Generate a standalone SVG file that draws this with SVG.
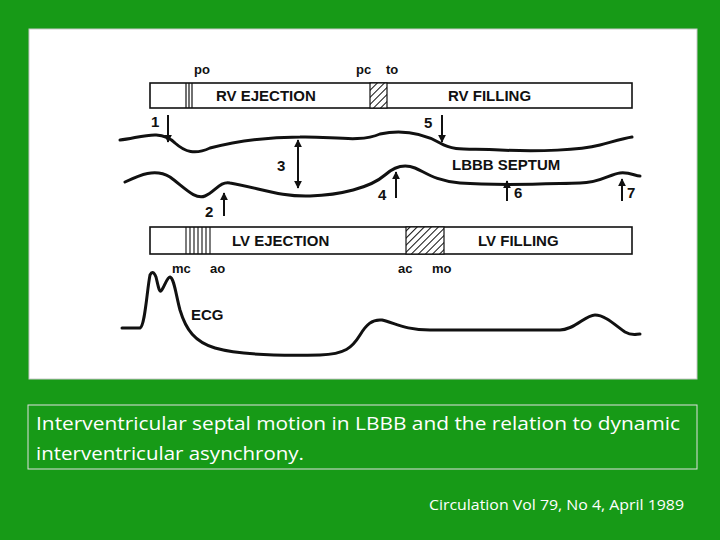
<svg xmlns="http://www.w3.org/2000/svg" width="720" height="540" viewBox="0 0 720 540">
<defs>
<style>
.lb{font-family:"Liberation Sans",Arial,sans-serif;font-weight:bold;font-size:15px;fill:#111}
.sm{font-family:"Liberation Sans",Arial,sans-serif;font-weight:bold;font-size:13px;fill:#111}
.bar{fill:#fff;stroke:#111;stroke-width:1.6}
.w{fill:none;stroke:#111;stroke-width:3;stroke-linecap:round;stroke-linejoin:round}
.ar{stroke:#111;stroke-width:2;marker-end:url(#ah)}
.cap{font-family:"Open Sans","Liberation Sans",sans-serif;fill:#fff}
</style>
<marker id="ah" viewBox="0 0 10 10" refX="9" refY="5" markerWidth="4" markerHeight="4" orient="auto-start-reverse"><path d="M0,0L10,5L0,10z" fill="#111"/></marker>
<pattern id="hatch" width="5" height="5" patternUnits="userSpaceOnUse" patternTransform="rotate(45)"><rect width="5" height="5" fill="#fff"/><line x1="0" y1="0" x2="0" y2="5" stroke="#111" stroke-width="2"/></pattern>
</defs>
<rect width="720" height="540" fill="#179a17"/>
<rect x="29" y="29" width="668" height="350" fill="#fff" stroke="#c8c8c8" stroke-width="1"/>
<g id="rv-bar">
<rect class="bar" x="150" y="83" width="482" height="25"/>
<path d="M186,83V108M189,83V108M192,83V108" stroke="#111" stroke-width="1.2"/>
<rect x="370" y="83" width="17" height="25" fill="url(#hatch)" stroke="#111" stroke-width="1.2"/>
<text class="lb" x="216" y="101">RV EJECTION</text>
<text class="lb" x="448" y="101">RV FILLING</text>
<text class="sm" x="194" y="74">po</text>
<text class="sm" x="356" y="74">pc</text>
<text class="sm" x="386" y="74">to</text>
</g>
<g id="waves">
<path class="w" d="M120,140C140,138 160,128 175,143C185,152 195,155 210,148C240,140 270,137 300,137C330,136 360,143 380,134C400,130 420,132 440,143C455,152 470,148 500,150C540,152 580,150 600,145C615,141 625,138 632,137"/>
<path class="w" d="M125,182C140,175 155,168 170,177C185,188 195,200 205,196C215,192 220,181 230,183C260,188 280,197 310,196C340,195 370,188 385,175C395,166 405,164 415,168C425,172 435,181 460,183C500,186 540,184 580,183C600,183 610,174 620,173C630,172 635,176 640,176"/>
</g>
<g id="connectors">
<line class="ar" x1="168" y1="115" x2="168" y2="142"/>
<line class="ar" x1="442" y1="115" x2="442" y2="142"/>
<line class="ar" x1="298" y1="188" x2="298" y2="140" marker-start="url(#ah)"/>
<line class="ar" x1="224" y1="216" x2="224" y2="193"/>
<line class="ar" x1="396" y1="198" x2="396" y2="172"/>
<line class="ar" x1="507" y1="201" x2="507" y2="181"/>
<line class="ar" x1="622" y1="201" x2="622" y2="179"/>
</g>
<g id="numbers">
<text class="lb" x="151" y="127">1</text>
<text class="lb" x="424" y="128">5</text>
<text class="lb" x="277" y="171">3</text>
<text class="lb" x="205" y="217">2</text>
<text class="lb" x="378" y="200">4</text>
<text class="lb" x="514" y="198">6</text>
<text class="lb" x="627" y="198">7</text>
<text class="lb" x="452" y="170">LBBB SEPTUM</text>
</g>
<g id="lv-bar">
<rect class="bar" x="150" y="227" width="482" height="27"/>
<path d="M186,227V254M190,227V254M194,227V254M198,227V254M202,227V254M206,227V254M210,227V254" stroke="#111" stroke-width="1.1"/>
<rect x="406" y="227" width="38" height="27" fill="url(#hatch)" stroke="#111" stroke-width="1.2"/>
<text class="lb" x="232" y="246">LV EJECTION</text>
<text class="lb" x="478" y="246">LV FILLING</text>
<text class="sm" x="172" y="273">mc</text>
<text class="sm" x="210" y="273">ao</text>
<text class="sm" x="398" y="273">ac</text>
<text class="sm" x="432" y="273">mo</text>
</g>
<g id="ecg">
<path class="w" stroke-width="2.6" d="M122,328L140,328C145,326 147,290 150,275C152,271 154,272 156,277C158,285 159,292 161,291C164,288 167,277 170,277C174,278 176,295 180,310C186,330 195,342 215,348C240,355 280,356 320,355C345,354 352,348 360,335C366,325 372,319 382,320C395,323 405,330 430,330L560,330C575,330 585,315 595,315C605,315 615,325 625,332C632,336 636,334 640,334"/>
<text class="lb" x="191" y="320">ECG</text>
</g>
<g id="caption">
<rect x="28" y="405" width="669" height="64" fill="none" stroke="#e0e0e0" stroke-width="1"/>
<text class="cap" x="36" y="430" font-size="19" textLength="644" lengthAdjust="spacingAndGlyphs">Interventricular septal motion in LBBB and the relation to dynamic</text>
<text class="cap" x="36" y="460" font-size="19" textLength="268" lengthAdjust="spacingAndGlyphs">interventricular asynchrony.</text>
<text class="cap" x="684" y="510" font-size="14" text-anchor="end" textLength="255" lengthAdjust="spacingAndGlyphs">Circulation Vol 79, No 4, April 1989</text>
</g>
</svg>
